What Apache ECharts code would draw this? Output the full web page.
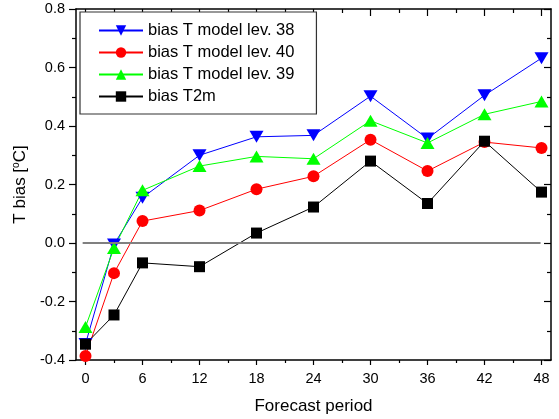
<!DOCTYPE html>
<html>
<head>
<meta charset="utf-8">
<script src="https://cdn.jsdelivr.net/npm/echarts@6/dist/echarts.min.js"></script>
<style>
  html, body { margin: 0; padding: 0; background: #fff; }
  #chart { width: 559px; height: 419px; }
</style>
</head>
<body>
<div id="chart"></div>
<script>
// Forecast lead times (hours)
const forecastHours = [0, 3, 6, 12, 18, 24, 30, 36, 42, 48];

// Temperature bias (deg C) per lead time
const biasLev38 = [-0.345, -0.005, 0.155, 0.300, 0.363, 0.368, 0.502, 0.357, 0.505, 0.632];
const biasLev40 = [-0.386, -0.103, 0.075, 0.111, 0.184, 0.228, 0.353, 0.246, 0.345, 0.325];
const biasLev39 = [-0.287, -0.017, 0.180, 0.263, 0.296, 0.288, 0.418, 0.342, 0.440, 0.484];
const biasT2m   = [-0.346, -0.246, -0.068, -0.081, 0.034, 0.123, 0.280, 0.135, 0.348, 0.174];

const seriesNames = ['bias T model lev. 38', 'bias T model lev. 40', 'bias T model lev. 39', 'bias T2m'];

// Axis ticks
const xMajorTicks = [0, 6, 12, 18, 24, 30, 36, 42, 48];
const xMinorTicks = [3, 9, 15, 21, 27, 33, 39, 45];
const zeroLineSpan = [-0.3, 47.9];

const pairs = vals => forecastHours.map((h, i) => [h, vals[i]]);

const FONT = '"Liberation Sans", Arial, sans-serif';
const axisLine = { show: true, onZero: false, lineStyle: { color: '#000', width: 1.5 } };
const noLine = { show: false, onZero: false };

const xBase = { type: 'value', min: -1, max: 49, splitLine: { show: false } };
const yBase = { type: 'value', min: -0.4, max: 0.8, interval: 0.2, splitLine: { show: false } };

const chart = echarts.init(document.getElementById('chart'), null, { renderer: 'canvas' });

chart.setOption({
  animation: false,
  backgroundColor: '#fff',
  grid: { left: 76, right: 8, top: 9, bottom: 59, containLabel: false, outerBoundsMode: 'none' },
  legend: {
    orient: 'vertical',
    left: 80,
    top: 12,
    data: seriesNames,
    itemWidth: 44,
    itemHeight: 13,
    itemGap: 5,
    padding: [10, 22, 9, 18],
    borderColor: '#333',
    borderWidth: 1.2,
    backgroundColor: '#fff',
    textStyle: { color: '#000', fontFamily: FONT, fontSize: 16.5, lineHeight: 16 }
  },
  xAxis: [
    Object.assign({}, xBase, {
      position: 'bottom',
      axisLine: axisLine,
      axisTick: { show: true, inside: false, length: 5, customValues: xMajorTicks, lineStyle: { color: '#000', width: 1.2 } },
      axisLabel: { show: true, customValues: xMajorTicks, color: '#000', fontFamily: FONT, fontSize: 14.5, margin: 11 },
      name: 'Forecast period',
      nameLocation: 'middle',
      nameGap: 38,
      nameTextStyle: { color: '#000', fontFamily: FONT, fontSize: 17 }
    }),
    Object.assign({}, xBase, {
      position: 'bottom',
      axisLine: noLine,
      axisTick: { show: true, inside: false, length: 3, customValues: xMinorTicks, lineStyle: { color: '#000', width: 1.2 } },
      axisLabel: { show: false }
    }),
    Object.assign({}, xBase, {
      position: 'top',
      axisLine: axisLine,
      axisTick: { show: true, inside: true, length: 7, customValues: xMajorTicks, lineStyle: { color: '#000', width: 1.2 } },
      axisLabel: { show: false }
    }),
    Object.assign({}, xBase, {
      position: 'top',
      axisLine: noLine,
      axisTick: { show: true, inside: true, length: 4, customValues: xMinorTicks, lineStyle: { color: '#000', width: 1.2 } },
      axisLabel: { show: false }
    })
  ],
  yAxis: [
    Object.assign({}, yBase, {
      position: 'left',
      axisLine: axisLine,
      axisTick: { show: true, inside: false, length: 7, lineStyle: { color: '#000', width: 1.2 } },
      minorTick: { show: true, splitNumber: 2, length: 4, lineStyle: { color: '#000', width: 1.2 } },
      axisLabel: {
        color: '#000', fontFamily: FONT, fontSize: 14.5, margin: 11,
        formatter: v => v.toFixed(1)
      },
      name: 'T bias [{sup|o}C]',
      nameLocation: 'middle',
      nameGap: 47,
      nameRotate: 90,
      nameTextStyle: {
        color: '#000', fontFamily: FONT, fontSize: 17,
        rich: {
          sup: { fontFamily: FONT, fontSize: 10, color: '#000', verticalAlign: 'top', padding: [0, 0, 8, 0] }
        }
      }
    }),
    Object.assign({}, yBase, {
      position: 'right',
      axisLine: axisLine,
      axisTick: { show: true, inside: true, length: 7, lineStyle: { color: '#000', width: 1.2 } },
      minorTick: { show: true, splitNumber: 2, length: 4, lineStyle: { color: '#000', width: 1.2 } },
      axisLabel: { show: false }
    })
  ],
  series: [
    {
      name: seriesNames[0], type: 'line', data: pairs(biasLev38),
      symbol: 'triangle', symbolRotate: 180, symbolSize: [14, 12],
      color: '#0000ff', lineStyle: { width: 1, color: '#0000ff' },
      itemStyle: { color: '#0000ff' },
      markLine: {
        silent: true, symbol: 'none', label: { show: false },
        lineStyle: { color: '#808080', width: 2, type: 'solid' },
        data: [[{ coord: [zeroLineSpan[0], 0] }, { coord: [zeroLineSpan[1], 0] }]]
      }
    },
    {
      name: seriesNames[1], type: 'line', data: pairs(biasLev40),
      symbol: 'circle', symbolSize: 12,
      color: '#ff0000', lineStyle: { width: 1, color: '#ff0000' },
      itemStyle: { color: '#ff0000' }
    },
    {
      name: seriesNames[2], type: 'line', data: pairs(biasLev39),
      symbol: 'triangle', symbolSize: [14, 12],
      color: '#00ff00', lineStyle: { width: 1, color: '#00ff00' },
      itemStyle: { color: '#00ff00' }
    },
    {
      name: seriesNames[3], type: 'line', data: pairs(biasT2m),
      symbol: 'rect', symbolSize: 11,
      color: '#000000', lineStyle: { width: 1, color: '#000000' },
      itemStyle: { color: '#000000' }
    }
  ]
});
</script>
</body>
</html>
